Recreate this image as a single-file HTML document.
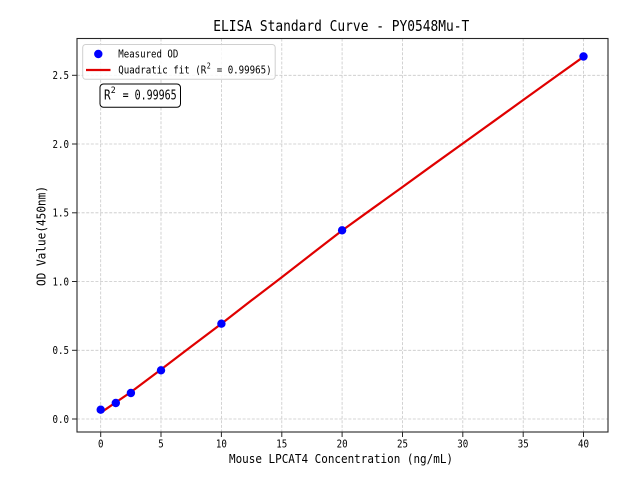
<!DOCTYPE html>
<html><head><meta charset="utf-8"><style>
html,body{margin:0;padding:0;background:#fff;}
svg{display:block;}
text{font-family:"DejaVu Sans Mono","Liberation Mono",monospace;fill:#000;}
</style></head><body>
<svg width="640" height="480" viewBox="0 0 640 480" xmlns="http://www.w3.org/2000/svg">
<rect x="0" y="0" width="640" height="480" fill="#fff"/>
<!-- grid -->
<g stroke="#c8c8c8" stroke-width="0.8" stroke-dasharray="3,1.6" fill="none">
<line x1="100.7" y1="38.5" x2="100.7" y2="432"/>
<line x1="161" y1="38.5" x2="161" y2="432"/>
<line x1="221.4" y1="38.5" x2="221.4" y2="432"/>
<line x1="281.8" y1="38.5" x2="281.8" y2="432"/>
<line x1="342.1" y1="38.5" x2="342.1" y2="432"/>
<line x1="402.5" y1="38.5" x2="402.5" y2="432"/>
<line x1="462.8" y1="38.5" x2="462.8" y2="432"/>
<line x1="523.2" y1="38.5" x2="523.2" y2="432"/>
<line x1="583.5" y1="38.5" x2="583.5" y2="432"/>
<line x1="77" y1="419" x2="608" y2="419"/>
<line x1="77" y1="350.3" x2="608" y2="350.3"/>
<line x1="77" y1="281.5" x2="608" y2="281.5"/>
<line x1="77" y1="212.8" x2="608" y2="212.8"/>
<line x1="77" y1="144" x2="608" y2="144"/>
<line x1="77" y1="75.3" x2="608" y2="75.3"/>
</g>
<!-- fit line -->
<polyline fill="none" stroke="#e00000" stroke-width="2.2" stroke-linejoin="round" points="100.7,412.7 131,392 161,369.5 191.2,346.5 221.4,323.7 251.6,300.3 281.8,277.3 312,253.8 342.1,230.5 372.3,208.7 402.5,187 432.6,165.2 462.8,143.5 493,121.8 523.2,100 553.3,78.4 583.5,56.8"/>
<!-- points -->
<g fill="#0000ff">
<circle cx="100.7" cy="409.7" r="4.2"/>
<circle cx="115.8" cy="403" r="4.2"/>
<circle cx="130.9" cy="393" r="4.2"/>
<circle cx="161" cy="370.3" r="4.2"/>
<circle cx="221.4" cy="323.7" r="4.2"/>
<circle cx="342.1" cy="230.3" r="4.2"/>
<circle cx="583.5" cy="56.5" r="4.2"/>
</g>
<!-- spines -->
<rect x="77" y="38.5" width="531" height="393.5" fill="none" stroke="#262626" stroke-width="1.1"/>
<!-- ticks -->
<g stroke="#262626" stroke-width="1">
<line x1="100.7" y1="432" x2="100.7" y2="437"/>
<line x1="161" y1="432" x2="161" y2="437"/>
<line x1="221.4" y1="432" x2="221.4" y2="437"/>
<line x1="281.8" y1="432" x2="281.8" y2="437"/>
<line x1="342.1" y1="432" x2="342.1" y2="437"/>
<line x1="402.5" y1="432" x2="402.5" y2="437"/>
<line x1="462.8" y1="432" x2="462.8" y2="437"/>
<line x1="523.2" y1="432" x2="523.2" y2="437"/>
<line x1="583.5" y1="432" x2="583.5" y2="437"/>
<line x1="72" y1="419" x2="77" y2="419"/>
<line x1="72" y1="350.3" x2="77" y2="350.3"/>
<line x1="72" y1="281.5" x2="77" y2="281.5"/>
<line x1="72" y1="212.8" x2="77" y2="212.8"/>
<line x1="72" y1="144" x2="77" y2="144"/>
<line x1="72" y1="75.3" x2="77" y2="75.3"/>
</g>
<!-- x tick labels -->
<g font-size="11" text-anchor="middle">
<text x="100.7" y="447.5" textLength="5.5" lengthAdjust="spacingAndGlyphs">0</text>
<text x="161" y="447.5" textLength="5.5" lengthAdjust="spacingAndGlyphs">5</text>
<text x="221.4" y="447.5" textLength="11" lengthAdjust="spacingAndGlyphs">10</text>
<text x="281.8" y="447.5" textLength="11" lengthAdjust="spacingAndGlyphs">15</text>
<text x="342.1" y="447.5" textLength="11" lengthAdjust="spacingAndGlyphs">20</text>
<text x="402.5" y="447.5" textLength="11" lengthAdjust="spacingAndGlyphs">25</text>
<text x="462.8" y="447.5" textLength="11" lengthAdjust="spacingAndGlyphs">30</text>
<text x="523.2" y="447.5" textLength="11" lengthAdjust="spacingAndGlyphs">35</text>
<text x="583.5" y="447.5" textLength="11" lengthAdjust="spacingAndGlyphs">40</text>
</g>
<!-- y tick labels -->
<g font-size="11">
<text x="52.5" y="422.8" textLength="16.5" lengthAdjust="spacingAndGlyphs">0.0</text>
<text x="52.5" y="354.1" textLength="16.5" lengthAdjust="spacingAndGlyphs">0.5</text>
<text x="52.5" y="285.3" textLength="16.5" lengthAdjust="spacingAndGlyphs">1.0</text>
<text x="52.5" y="216.6" textLength="16.5" lengthAdjust="spacingAndGlyphs">1.5</text>
<text x="52.5" y="147.8" textLength="16.5" lengthAdjust="spacingAndGlyphs">2.0</text>
<text x="52.5" y="79.1" textLength="16.5" lengthAdjust="spacingAndGlyphs">2.5</text>
</g>
<!-- axis labels -->
<text x="229" y="463" font-size="12.5" textLength="224" lengthAdjust="spacingAndGlyphs">Mouse LPCAT4 Concentration (ng/mL)</text>
<text transform="translate(45.5,286) rotate(-90)" x="0" y="0" font-size="12.5" textLength="100" lengthAdjust="spacingAndGlyphs">OD Value(450nm)</text>
<!-- title -->
<text x="213.3" y="31" font-size="15" textLength="256" lengthAdjust="spacingAndGlyphs">ELISA Standard Curve - PY0548Mu-T</text>
<!-- legend -->
<rect x="82.7" y="44.5" width="192.5" height="34.8" rx="3" ry="3" fill="#fff" fill-opacity="0.85" stroke="#d0d0d0" stroke-width="1"/>
<circle cx="98.3" cy="54" r="4.2" fill="#0000ff"/>
<line x1="86" y1="70" x2="110.5" y2="70" stroke="#e00000" stroke-width="2.2"/>
<g font-size="11">
<text x="118.3" y="57.7" textLength="60" lengthAdjust="spacingAndGlyphs">Measured OD</text>
<text x="118.3" y="73.7" textLength="88" lengthAdjust="spacingAndGlyphs">Quadratic fit (R</text>
<text x="206.8" y="68.5" font-size="8" textLength="4" lengthAdjust="spacingAndGlyphs">2</text>
<text x="216.7" y="73.7" textLength="55" lengthAdjust="spacingAndGlyphs">= 0.99965)</text>
</g>
<!-- R2 box -->
<rect x="100" y="84" width="80.5" height="23.3" rx="3.5" ry="3.5" fill="#fff" stroke="#000" stroke-width="1"/>
<g font-size="13">
<text x="104" y="99.3" textLength="6.6" lengthAdjust="spacingAndGlyphs">R</text>
<text x="110.8" y="93" font-size="9" textLength="5" lengthAdjust="spacingAndGlyphs">2</text>
<text x="122.6" y="99.3" textLength="54.1" lengthAdjust="spacingAndGlyphs">= 0.99965</text>
</g>
</svg>
</body></html>
